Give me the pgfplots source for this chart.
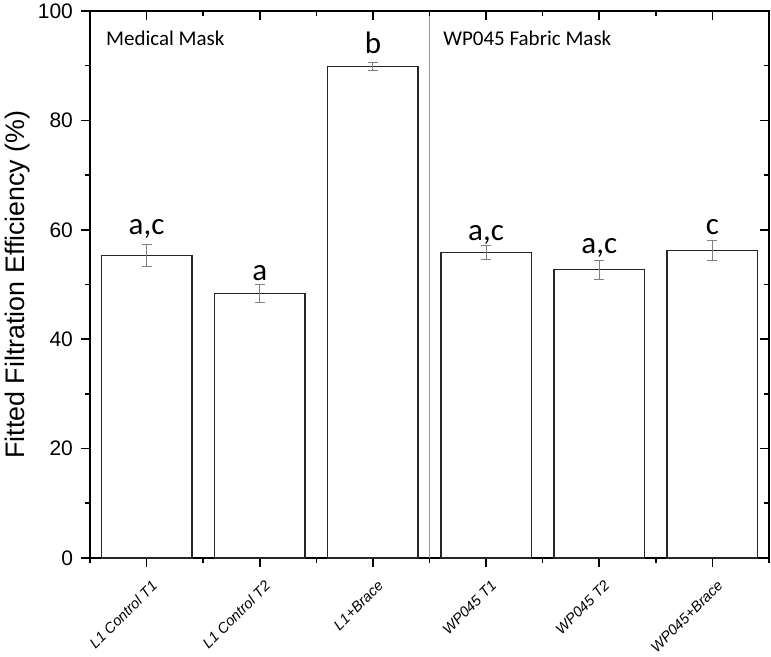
\documentclass[border=0pt]{standalone}
\usepackage{fontspec}
\setmainfont{Liberation Sans}
\newfontfamily\calibri{Carlito}
\usepackage{pgfplots}
\pgfplotsset{compat=1.18}
\usepackage{pgfplotstable}

\pgfplotstableread{
x  y     err
0  55.3  2.05
1  48.4  1.65
2  89.9  0.70
3  55.9  1.30
4  52.7  1.70
5  56.2  1.80
}\ffedata

\begin{document}
\begin{tikzpicture}
\pgfplotsset{
  common/.style={
    scale only axis,
    width=339.5pt, height=273.5pt,
    xmin=-0.5, xmax=5.5, ymin=0, ymax=100,
    xtick={0,1,2,3,4,5},
    minor xtick={-0.5,0.5,1.5,2.5,3.5,4.5,5.5},
    ytick={0,20,40,60,80,100},
    minor ytick={10,30,50,70,90},
    major tick length=4.5pt, minor tick length=2.6pt,
    tick style={black, line width=0.8pt},
  }
}
\begin{axis}[
  common,
  name=ax,
  axis line style={black, line width=1pt},
  tick align=outside,
  xtick pos=bottom, ytick pos=left,
  /pgf/number format/assume math mode=true,
  yticklabel style={font=\fontsize{10.5}{12}\selectfont, xshift=-0.5pt},
  xticklabels={L1 Control T1, L1 Control T2, L1+Brace, WP045 T1, WP045 T2, WP045+Brace},
  xticklabel style={font=\fontsize{7.3}{9}\selectfont\itshape, inner sep=0pt,
    xshift=2pt, yshift=-6pt, rotate=45, anchor=north east},
  ylabel={Fitted Filtration Efficiency (\%)},
  every axis y label/.style={at={(axis description cs:0,0.5)}, rotate=90, anchor=center, yshift=36pt},
  ylabel style={font=\fontsize{13.4}{15}\selectfont},
  clip=false,
]
\draw[gray!80, line width=0.5pt] (axis cs:2.5,0) -- (axis cs:2.5,100);
\addplot[ybar, bar width=0.8, fill=white, draw=black!85, line width=0.7pt,
  error bars/.cd, y dir=both, y explicit,
  error bar style={gray, line width=0.5pt},
  error mark options={rotate=90, gray, mark size=2.5pt, line width=0.5pt}]
  table[x=x, y=y, y error=err] {\ffedata};
\node[anchor=west, font=\calibri\fontsize{10.5}{12}\selectfont] at (axis cs:-0.42,95.1) {Medical Mask};
\node[anchor=west, font=\calibri\fontsize{10.5}{12}\selectfont] at (axis cs:2.56,95.1) {WP045 Fabric Mask};
\begin{scope}[every node/.style={anchor=base, font=\calibri\fontsize{15.5}{17}\selectfont}]
\node at (axis cs:0,59.2) {a,c};
\node at (axis cs:1,50.8) {a};
\node at (axis cs:2,92.3) {b};
\node at (axis cs:3,58.0) {a,c};
\node at (axis cs:4,55.6) {a,c};
\node at (axis cs:5,59.2) {c};
\end{scope}
\end{axis}
\begin{axis}[
  common,
  axis line style={draw=none},
  tick align=inside,
  xtick pos=top, ytick pos=right,
  xticklabels={}, yticklabels={},
]
\end{axis}
\pgfresetboundingbox
\path ([shift={(-45pt,-49.5pt)}]ax.south west) rectangle ([shift={(1pt,5.5pt)}]ax.north east);
\end{tikzpicture}
\end{document}
